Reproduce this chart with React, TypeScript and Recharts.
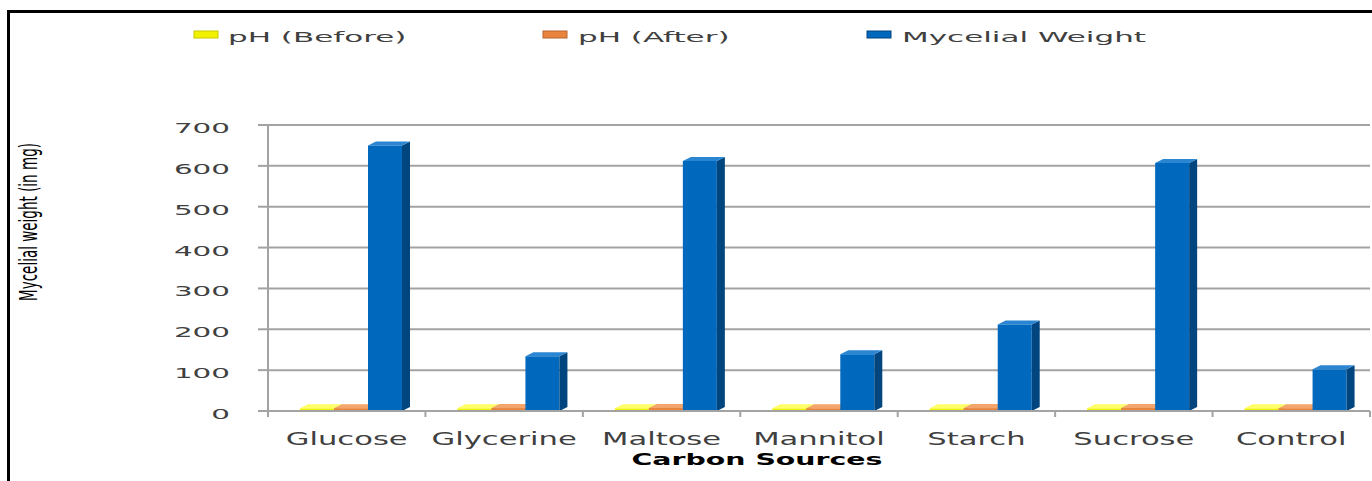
import React from 'react';
import { BarChart, Bar, XAxis, YAxis, CartesianGrid, Legend } from 'recharts';

// ---------- data ----------
const categories = ['Glucose', 'Glycerine', 'Maltose', 'Mannitol', 'Starch', 'Sucrose', 'Control'];
const phBefore = [6.5, 6.5, 6.5, 6.5, 6.5, 6.5, 6.5];
const phAfter = [7.0, 7.2, 7.4, 6.8, 7.1, 7.3, 6.9];
const mycelialWeight = [650, 134, 612, 139, 212, 607, 102];
const yTicks = [0, 100, 200, 300, 400, 500, 600, 700];
const seriesKeys = ['before', 'after', 'weight'] as const;
const seriesNames = ['pH (Before)', 'pH (After)', 'Mycelial Weight'];
const yAxisTitle = 'Mycelial weight (in mg)';
const xAxisTitle = 'Carbon Sources';

const data = categories.map((c, i) => ({
  name: c,
  before: phBefore[i],
  after: phAfter[i],
  weight: mycelialWeight[i],
}));

// ---------- styles ----------
const W = 1372;
const H = 481;
const FONT = '"DejaVu Sans", Verdana, sans-serif';
const GRID = '#A3A3A3';
const TEXT = '#404040';
const COLORS = {
  before: { front: '#F2F200', top: '#FFFF66', side: '#C8C800' },
  after: { front: '#E8843E', top: '#F4A56B', side: '#B8622A' },
  weight: { front: '#0069BE', top: '#2A86D2', side: '#00457E' },
};
const LEGEND_POS = [
  { icon: 194, text: 228 },
  { icon: 543, text: 578 },
  { icon: 867, text: 902 },
];

const make3D = (c: { front: string; top: string; side: string }) => (props: any) => {
  const { x, y, width, height } = props;
  if (x == null || y == null) return null;
  const d = 8;
  const dy = 4;
  const X = x + 4;
  const h = Math.max(height || 0, 0);
  return (
    <g>
      <rect x={X} y={y} width={width} height={h} fill={c.front} />
      <polygon
        points={`${X + width},${y} ${X + width + d},${y - dy} ${X + width + d},${y + h - dy} ${X + width},${y + h}`}
        fill={c.side}
      />
      <polygon
        points={`${X},${y} ${X + d},${y - dy} ${X + width + d},${y - dy} ${X + width},${y}`}
        fill={c.top}
      />
    </g>
  );
};

const XTick = (props: any) => {
  const { x, y, payload, index } = props;
  const half = payload && payload.offset ? payload.offset : (W - 2 - 268) / categories.length / 2;
  return (
    <g>
      <line x1={x - half} x2={x - half} y1={y} y2={y + 6} stroke={GRID} strokeWidth={2} />
      {index === categories.length - 1 && (
        <line x1={x + half} x2={x + half} y1={y} y2={y + 6} stroke={GRID} strokeWidth={2} />
      )}
      <text
        transform={`translate(${x},${y + 34}) scale(1.8,1)`}
        textAnchor="middle"
        fontFamily={FONT}
        fontSize={17}
        fill={TEXT}
      >
        {payload.value}
      </text>
    </g>
  );
};

const YTick = (props: any) => {
  const { x, y, payload } = props;
  return (
    <text
      transform={`translate(${x},${y + 8}) scale(2.1,1)`}
      textAnchor="end"
      fontFamily={FONT}
      fontSize={14}
      fill={TEXT}
    >
      {payload.value}
    </text>
  );
};

const YTitle = () => (
  <text
    transform="translate(29,222) rotate(-90)"
    textAnchor="middle"
    dominantBaseline="central"
    fontFamily='"Liberation Sans Narrow", "DejaVu Sans Condensed", "Liberation Sans", sans-serif'
    fontSize={24}
    textLength={158}
    lengthAdjust="spacingAndGlyphs"
    fill="#000"
  >
    {yAxisTitle}
  </text>
);

const XTitle = () => (
  <text
    x={757}
    y={465}
    textAnchor="middle"
    fontFamily={FONT}
    fontWeight="bold"
    fontSize={16.5}
    textLength={251}
    lengthAdjust="spacingAndGlyphs"
    fill="#000"
  >
    {xAxisTitle}
  </text>
);

const LegendContent = () => (
  <svg width={W} height={60} style={{ display: 'block' }}>
    {seriesKeys.map((key, i) => {
      const pos = LEGEND_POS[i];
      const c = COLORS[key];
      return (
        <g key={key}>
          <rect x={pos.icon} y={31} width={24} height={7} fill={c.front} stroke={c.side} strokeWidth={1} />
          <text
            transform={`translate(${pos.text},42) scale(2.14,1)`}
            fontFamily={FONT}
            fontSize={14.5}
            fill={TEXT}
          >
            {seriesNames[i]}
          </text>
        </g>
      );
    })}
  </svg>
);

export default function App() {
  return (
    <div style={{ position: 'relative', width: W, height: H, background: '#fff', overflow: 'hidden' }}>
      <style>{'body{margin:0}'}</style>
      <div
        style={{
          position: 'absolute',
          left: 7,
          top: 10,
          width: W,
          height: H,
          borderLeft: '3px solid #000',
          borderTop: '3px solid #000',
          boxSizing: 'border-box',
        }}
      />
      <BarChart
        width={W}
        height={H}
        data={data}
        margin={{ top: 125, right: 2, bottom: 0, left: 0 }}
        barSize={34}
        barGap={0}
      >
        <CartesianGrid horizontal vertical={false} stroke={GRID} strokeWidth={2} />
        <XAxis
          dataKey="name"
          height={70}
          tickSize={0}
          tickMargin={0}
          interval={0}
          axisLine={{ stroke: GRID, strokeWidth: 2 }}
          tickLine={false}
          tick={<XTick />}
          label={<XTitle />}
        />
        <YAxis
          width={268}
          domain={[0, 700]}
          ticks={yTicks}
          interval={0}
          tickSize={10}
          tickMargin={28}
          axisLine={{ stroke: GRID, strokeWidth: 2 }}
          tickLine={{ stroke: GRID, strokeWidth: 2 }}
          tick={<YTick />}
          label={<YTitle />}
        />
        <Legend
          layout="horizontal"
          verticalAlign="middle"
          align="center"
          wrapperStyle={{ top: 0, left: 0, width: W, height: 60 }}
          content={<LegendContent />}
        />
        <Bar dataKey="before" name={seriesNames[0]} fill={COLORS.before.front} shape={make3D(COLORS.before)} isAnimationActive={false} />
        <Bar dataKey="after" name={seriesNames[1]} fill={COLORS.after.front} shape={make3D(COLORS.after)} isAnimationActive={false} />
        <Bar dataKey="weight" name={seriesNames[2]} fill={COLORS.weight.front} shape={make3D(COLORS.weight)} isAnimationActive={false} />
      </BarChart>
    </div>
  );
}
